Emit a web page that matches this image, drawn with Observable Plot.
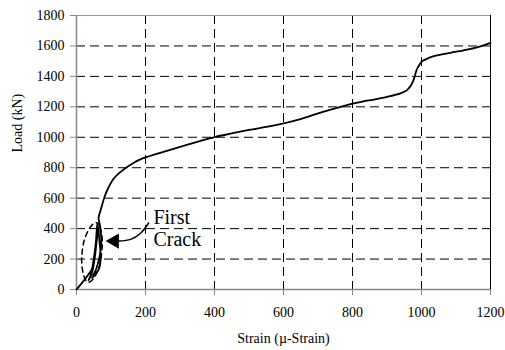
<!DOCTYPE html>
<html><head><meta charset="utf-8">
<script src="https://cdn.jsdelivr.net/npm/d3@7"></script>
<script src="https://cdn.jsdelivr.net/npm/@observablehq/plot@0.6"></script>
<style>body{margin:0;background:#fff} svg{display:block} svg text{font-family:"Liberation Serif","Times New Roman",serif}</style>
</head><body><div id="chart"></div>
<script>
// Load–strain record (µ-strain, kN), including the early load/unload cycles
const strain = [0,20,35,45,52,56,58,60, 57,50,42,35, 45,53,59,62, 66,70,66,55,45, 58,68,72,68,64,
  70,80,89,108,128,150,170,185,240,300,350,403,450,500,550,591,649,698,750,794,830,862,900,939,
  958,968,975,980,984,988,995,1002,1020,1036,1084,1120,1161,1200];
const load = [0,55,100,135,210,300,370,430, 330,200,100,60, 110,210,330,420, 330,210,140,100,75, 140,230,320,420,470,
  521,600,652,729,773,810,838,855,896,937,970,1003,1025,1048,1068,1086,1119,1156,1190,1218,1235,1248,1265,1288,
  1310,1336,1365,1397,1430,1452,1480,1500,1520,1533,1555,1570,1590,1620];

// Annotation: dashed ellipse around the first-crack zone
const ellipseStrain = [57,68,75,68,52,33,20,15,22,40];
const ellipseLoad   = [438,410,310,170,80,48,100,200,320,410];
// Annotation: curved arrow
const arrowStrain = [209,185,157,123];
const arrowLoad   = [437,368,329,318];
const headStrain = [110];
const headLoad = [318];
const noteStrain = [223];
const noteLoad = [538];
const noteText = ["First\nCrack"];

const xTicks = [0,200,400,600,800,1000,1200];
const yTicks = [0,200,400,600,800,1000,1200,1400,1600,1800];
const xGrid = [200,400,600,800,1000];
const yGrid = [200,400,600,800,1000,1200,1400,1600];
const xLabel = "Strain (µ-Strain)";
const yLabel = "Load (kN)";

const curve = strain.map((s,i)=>({s, l: load[i]}));
const ellipse = ellipseStrain.map((s,i)=>({s, l: ellipseLoad[i]}));
const arrow = arrowStrain.map((s,i)=>({s, l: arrowLoad[i]}));
const head = headStrain.map((s,i)=>({s, l: headLoad[i]}));
const note = noteText.map((t,i)=>({t, s: noteStrain[i], l: noteLoad[i]}));
const serif = "'Liberation Serif', 'Times New Roman', serif";

const chart = Plot.plot({
  width: 505, height: 350,
  marginLeft: 76, marginRight: 15, marginTop: 15, marginBottom: 61,
  style: {fontFamily: serif, fontSize: "14px", background: "#fff", color: "black"},
  x: {domain: [0,1200]},
  y: {domain: [0,1800]},
  marks: [
    Plot.ruleX(xGrid, {stroke: "black", strokeDasharray: "9,5", strokeWidth: 1}),
    Plot.ruleY(yGrid, {stroke: "black", strokeDasharray: "9,5", strokeWidth: 1}),
    Plot.ruleY([1800], {stroke: "#999", strokeWidth: 1}),
    Plot.ruleX([1200], {stroke: "black", strokeWidth: 1}),
    Plot.ruleX([0], {stroke: "#888", strokeWidth: 1.5}),
    Plot.ruleY([0], {stroke: "#888", strokeWidth: 1.5}),
    Plot.axisX(xTicks, {tickSize: 6, tickPadding: 12, stroke: "#888", fill: "black", fontSize: 14, fontFamily: serif, tickFormat: d => String(d), label: null}),
    Plot.axisY(yTicks, {tickSize: 6, tickPadding: 6, stroke: "#888", fill: "black", fontSize: 14, fontFamily: serif, tickFormat: d => String(d), label: null}),
    Plot.line(ellipse, {x: "s", y: "l", curve: "cardinal-closed", stroke: "black", strokeWidth: 1.5, strokeDasharray: "5,4"}),
    Plot.line(curve, {x: "s", y: "l", curve: "catmull-rom", stroke: "black", strokeWidth: 1.8}),
    Plot.line(arrow, {x: "s", y: "l", curve: "catmull-rom", stroke: "black", strokeWidth: 1.5}),
    Plot.dot(head, {x: "s", y: "l", symbol: "triangle", r: 5.7, rotate: -90, fill: "black", stroke: "none"}),
    Plot.text(note, {x: "s", y: "l", text: "t", textAnchor: "start", lineAnchor: "top", fontSize: 20, lineHeight: 1.12, fill: "black", fontFamily: serif}),
    Plot.text([xLabel], {frameAnchor: "bottom", dy: 53, fontSize: 14, fill: "black", fontFamily: serif}),
    Plot.text([yLabel], {frameAnchor: "left", dx: -59, rotate: -90, fontSize: 14, fill: "black", fontFamily: serif})
  ]
});
document.getElementById("chart").appendChild(chart);
</script>
</body></html>
